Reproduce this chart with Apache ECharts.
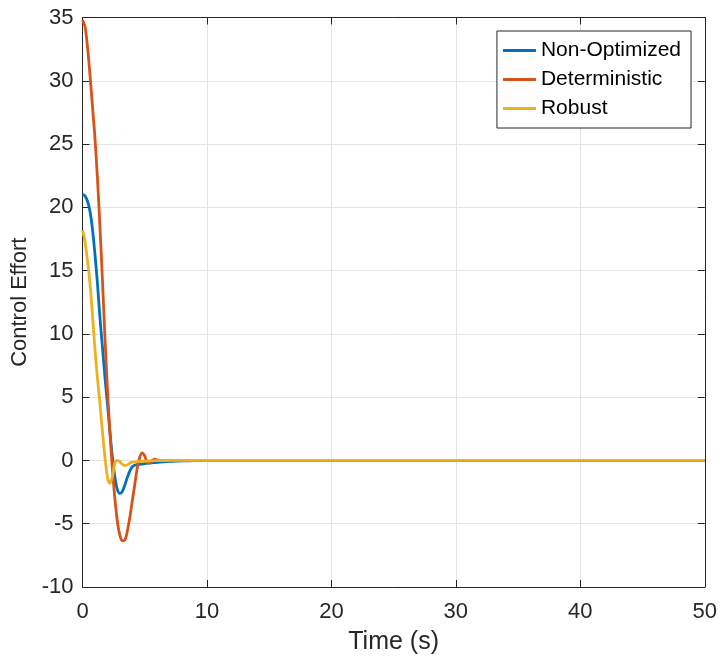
<!DOCTYPE html>
<html>
<head>
<meta charset="utf-8">
<title>Control Effort</title>
<script src="https://cdn.jsdelivr.net/npm/echarts@6/dist/echarts.min.js"></script>
<style>
  html, body { margin: 0; padding: 0; background: #fff; }
  #main { width: 720px; height: 660px; }
</style>
</head>
<body>
<div id="main"></div>
<script>
// time samples (s), shared by all three series
var timeS = [0, 0.2, 0.4, 0.6, 0.8, 1.0, 1.2, 1.4, 1.6, 1.8,
             2.0, 2.2, 2.4, 2.6, 2.8, 3.0, 3.2, 3.4, 3.6, 3.8,
             4.0, 4.2, 4.4, 4.6, 4.8, 5.0, 5.2, 5.4, 5.6, 5.8,
             6.0, 6.5, 7.0, 7.5, 8, 9, 10, 20, 30, 40, 50];

var nonOptimized = [21.0, 20.9, 20.5, 19.7, 18.3, 16.3, 14.0, 11.3, 9.0, 6.6,
                    4.5, 2.3, 0.3, -1.3, -2.3, -2.6, -2.45, -1.95, -1.35, -0.85,
                    -0.5, -0.38, -0.32, -0.3, -0.28, -0.25, -0.23, -0.21, -0.19, -0.17,
                    -0.15, -0.11, -0.08, -0.06, -0.04, -0.02, 0, 0, 0, 0, 0];

var deterministic = [34.8, 34.3, 32.7, 30.5, 28.0, 25.5, 22.3, 18.5, 14.3, 9.8,
                     5.7, 2.3, -0.6, -3.0, -4.8, -5.9, -6.35, -6.3, -5.6, -4.5,
                     -3.2, -1.9, -0.6, 0.25, 0.6, 0.35, -0.15, -0.2, 0.0, 0.1,
                     0.05, -0.02, 0, 0, 0, 0, 0, 0, 0, 0, 0];

var robust = [18.2, 17.3, 15.8, 14.0, 11.5, 8.8, 6.5, 4.5, 2.3, 0.3,
              -1.3, -1.8, -1.3, -0.2, 0.0, -0.1, -0.3, -0.4, -0.35, -0.2,
              -0.15, -0.12, -0.1, -0.08, -0.07, -0.06, -0.05, -0.04, -0.03, -0.02,
              -0.02, -0.01, 0, 0, 0, 0, 0, 0, 0, 0, 0];

var seriesNames = ['Non-Optimized', 'Deterministic', 'Robust'];
var seriesColors = ['#0072BD', '#D95319', '#EDB120'];

function pairs(vals) {
    var out = [];
    for (var i = 0; i < timeS.length; i++) {
        out.push([timeS[i], vals[i]]);
    }
    return out;
}

var fontFam = 'Liberation Sans, Arial, sans-serif';
var axisColor = '#262626';

var chart = echarts.init(document.getElementById('main'), null, { renderer: 'canvas' });

var option = {
    backgroundColor: '#ffffff',
    animation: false,
    textStyle: { fontFamily: fontFam, color: axisColor },
    grid: {
        left: 82.5,
        right: 15,
        top: 17.5,
        bottom: 72,
        containLabel: false
    },
    legend: {
        data: seriesNames.map(function (n) { return { name: n, icon: 'rect' }; }),
        orient: 'vertical',
        right: 29,
        top: 31,
        backgroundColor: '#ffffff',
        borderColor: axisColor,
        borderWidth: 1,
        borderRadius: 0,
        padding: [9, 10, 9, 6],
        itemWidth: 33,
        itemHeight: 3,
        itemGap: 8,
        textStyle: {
            fontFamily: fontFam,
            fontSize: 21,
            color: '#000000',
            padding: [0, 0, 0, 0]
        }
    },
    xAxis: [{
        type: 'value',
        min: 0,
        max: 50,
        interval: 10,
        name: 'Time (s)',
        nameLocation: 'middle',
        nameGap: 43,
        nameTextStyle: { fontSize: 25, color: axisColor, fontFamily: fontFam },
        axisLine: { show: true, onZero: false, lineStyle: { color: axisColor, width: 1 } },
        axisTick: { show: true, inside: true, length: 7, lineStyle: { color: axisColor } },
        axisLabel: { fontSize: 22, color: axisColor, margin: 14, fontFamily: fontFam },
        splitLine: { show: true, lineStyle: { color: '#e3e3e3', width: 1 } }
    }, {
        type: 'value',
        position: 'top',
        min: 0,
        max: 50,
        interval: 10,
        axisLine: { show: true, onZero: false, lineStyle: { color: axisColor, width: 1 } },
        axisTick: { show: true, inside: true, length: 7, lineStyle: { color: axisColor } },
        axisLabel: { show: false },
        splitLine: { show: false }
    }],
    yAxis: [{
        type: 'value',
        min: -10,
        max: 35,
        interval: 5,
        name: 'Control Effort',
        nameLocation: 'middle',
        nameGap: 50,
        nameRotate: 90,
        nameTextStyle: { fontSize: 22, color: axisColor, fontFamily: fontFam },
        axisLine: { show: true, onZero: false, lineStyle: { color: axisColor, width: 1 } },
        axisTick: { show: true, inside: true, length: 7, lineStyle: { color: axisColor } },
        axisLabel: { fontSize: 22, color: axisColor, margin: 9, fontFamily: fontFam },
        splitLine: { show: true, lineStyle: { color: '#e3e3e3', width: 1 } }
    }, {
        type: 'value',
        position: 'right',
        min: -10,
        max: 35,
        interval: 5,
        axisLine: { show: true, onZero: false, lineStyle: { color: axisColor, width: 1 } },
        axisTick: { show: true, inside: true, length: 7, lineStyle: { color: axisColor } },
        axisLabel: { show: false },
        splitLine: { show: false }
    }],
    series: [nonOptimized, deterministic, robust].map(function (vals, i) {
        return {
            name: seriesNames[i],
            type: 'line',
            xAxisIndex: 0,
            yAxisIndex: 0,
            data: pairs(vals),
            symbol: 'none',
            showSymbol: false,
            smooth: 0.3,
            lineStyle: { color: seriesColors[i], width: 2.8 },
            itemStyle: { color: seriesColors[i] },
            z: 2 + i
        };
    })
};

chart.setOption(option);
</script>
</body>
</html>
